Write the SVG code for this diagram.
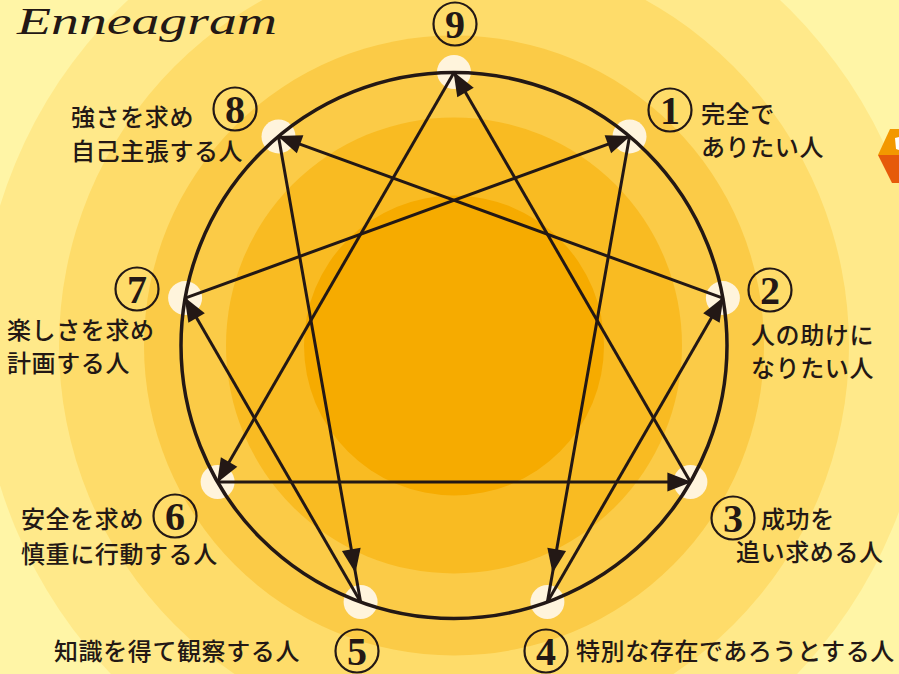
<svg xmlns="http://www.w3.org/2000/svg" width="899" height="674" viewBox="0 0 899 674">
<style>
.lbl{font-family:"Noto Sans CJK JP","Noto Sans CJK SC",sans-serif;font-size:24px;font-weight:500;fill:#231815;letter-spacing:0.6px}
.num{font-family:"Liberation Serif","DejaVu Serif",serif;font-size:40px;font-weight:bold;fill:#231815;text-anchor:middle}
.ncirc{fill:none;stroke:#231815;stroke-width:2.2}
.dot{fill:#FFF4DC}
.cn{fill:none;stroke:#231815;stroke-width:3}
</style>
<defs>
<marker id="ah" markerUnits="userSpaceOnUse" markerWidth="25" markerHeight="21" viewBox="0 0 25 21" refX="24" refY="10.5" orient="auto">
<path d="M1,1 L25,10.5 L1,20 Z" fill="#231815"/>
</marker>
</defs>
<g id="background">
<rect x="0" y="0" width="899" height="674" fill="#FFF5A6"/>
<circle cx="454" cy="345.5" r="475" fill="#FFE98A"/>
<circle cx="454" cy="345.5" r="395" fill="#FEDC6A"/>
<circle cx="454" cy="345.5" r="310" fill="#FBCB47"/>
<circle cx="454" cy="345.5" r="228" fill="#F9BB22"/>
<circle cx="454" cy="345.5" r="150" fill="#F6AB00"/>
<path d="M878,155 L890,129 L899,129 L899,155 Z" fill="#F39800"/>
<path d="M878,155 L899,155 L899,183 L892,183 Z" fill="#E65A0A"/>
<path d="M895,138 L899,137 L899,150 L896,149 Z" fill="#FFFFFF"/>
</g>
<text x="17" y="34" font-family="Liberation Serif" font-style="italic" font-size="38" textLength="260" lengthAdjust="spacingAndGlyphs" fill="#231815">Enneagram</text>
<g id="node-9">
<circle class="dot" cx="454" cy="72" r="17"/>
<circle class="ncirc" cx="455" cy="24" r="21.5"/>
<text class="num" x="455" y="38">9</text>
</g>
<g id="node-1">
<circle class="dot" cx="629.5" cy="136.4" r="17"/>
<circle class="ncirc" cx="670" cy="110" r="21.5"/>
<text class="num" x="670" y="124">1</text>
<text class="lbl"><tspan x="701" y="123">完全で</tspan><tspan x="701" y="156">ありたい人</tspan></text>
</g>
<g id="node-2">
<circle class="dot" cx="722.9" cy="298.1" r="17"/>
<circle class="ncirc" cx="770" cy="290" r="21.5"/>
<text class="num" x="770" y="304">2</text>
<text class="lbl"><tspan x="751" y="344">人の助けに</tspan><tspan x="751" y="377">なりたい人</tspan></text>
</g>
<g id="node-3">
<circle class="dot" cx="690.4" cy="482" r="17"/>
<circle class="ncirc" cx="733" cy="518" r="21.5"/>
<text class="num" x="733" y="532">3</text>
<text class="lbl"><tspan x="761" y="528">成功を</tspan><tspan x="736" y="561">追い求める人</tspan></text>
</g>
<g id="node-4">
<circle class="dot" cx="547.4" cy="602" r="17"/>
<circle class="ncirc" cx="546" cy="651" r="21.5"/>
<text class="num" x="546" y="665">4</text>
<text class="lbl" x="576" y="660">特別な存在であろうとする人</text>
</g>
<g id="node-5">
<circle class="dot" cx="360.6" cy="602" r="17"/>
<circle class="ncirc" cx="357" cy="651" r="21.5"/>
<text class="num" x="357" y="665">5</text>
<text class="lbl" x="54" y="660">知識を得て観察する人</text>
</g>
<g id="node-6">
<circle class="dot" cx="217.6" cy="482" r="17"/>
<circle class="ncirc" cx="175" cy="516" r="21.5"/>
<text class="num" x="175" y="530">6</text>
<text class="lbl"><tspan x="21" y="528">安全を求め</tspan><tspan x="21" y="563">慎重に行動する人</tspan></text>
</g>
<g id="node-7">
<circle class="dot" cx="185.1" cy="298.1" r="17"/>
<circle class="ncirc" cx="137" cy="289" r="21.5"/>
<text class="num" x="137" y="303">7</text>
<text class="lbl"><tspan x="7" y="339">楽しさを求め</tspan><tspan x="7" y="372">計画する人</tspan></text>
</g>
<g id="node-8">
<circle class="dot" cx="278.5" cy="136.4" r="17"/>
<circle class="ncirc" cx="235" cy="109" r="21.5"/>
<text class="num" x="235" y="123">8</text>
<text class="lbl"><tspan x="71" y="126">強さを求め</tspan><tspan x="71" y="160">自己主張する人</tspan></text>
</g>
<g id="ring">
<circle cx="454" cy="345.5" r="273" fill="none" stroke="#231815" stroke-width="3.5"/>
</g>
<g id="connectors">
<path class="cn" d="M690.4,482 L454,72.5" marker-end="url(#ah)"/>
<path class="cn" d="M454,72.5 L217.6,482" marker-end="url(#ah)"/>
<path class="cn" d="M217.6,482 L690.4,482" marker-end="url(#ah)"/>
<path class="cn" d="M629.5,136.4 L552.7,572 L547.4,602" marker-mid="url(#ah)"/>
<path class="cn" d="M547.4,602 L722.9,298.1" marker-end="url(#ah)"/>
<path class="cn" d="M722.9,298.1 L278.5,136.4" marker-end="url(#ah)"/>
<path class="cn" d="M278.5,136.4 L355.3,572 L360.6,602" marker-mid="url(#ah)"/>
<path class="cn" d="M360.6,602 L185.1,298.1" marker-end="url(#ah)"/>
<path class="cn" d="M185.1,298.1 L629.5,136.4" marker-end="url(#ah)"/>
</g>
</svg>
